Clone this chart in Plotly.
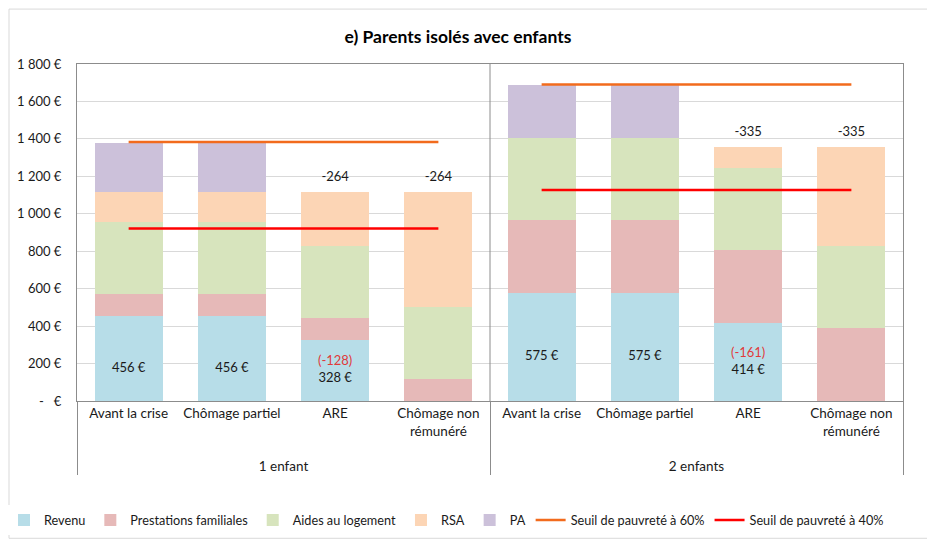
import plotly.graph_objects as go

# ---- data ----
groups = ["1 enfant"] * 4 + ["2 enfants"] * 4
situations = ["Avant la crise", "Chômage partiel", "ARE", "Chômage non<br>rémunéré"] * 2
revenu = [456, 456, 328, 0, 575, 575, 414, 0]
prestations = [115, 115, 115, 115, 390, 390, 390, 390]
aides_logement = [385, 385, 385, 385, 440, 440, 440, 440]
rsa = [160, 160, 288, 616, 0, 0, 111, 525]
pa = [264, 264, 0, 0, 285, 285, 0, 0]
seuil_60 = [1383, 1383, 1383, 1383, 1690, 1690, 1690, 1690]
seuil_40 = [922, 922, 922, 922, 1127, 1127, 1127, 1127]
y_tickvals = [0, 200, 400, 600, 800, 1000, 1200, 1400, 1600, 1800]
y_ticktext = ["-   €", "200 €", "400 €", "600 €", "800 €", "1 000 €", "1 200 €", "1 400 €", "1 600 €", "1 800 €"]

# ---- styles / label placement ----
FONT = "Lato, 'Open Sans', sans-serif"
colors = {
    "Revenu": "#b7dde8",
    "Prestations familiales": "#e6b9b8",
    "Aides au logement": "#d7e4bd",
    "RSA": "#fcd5b5",
    "PA": "#ccc1da",
}
orange = "#f26b1d"
red = "#ff0000"
label_red = "#e03a3a"
revenu_label_y = [172, 172, 165, None, 238, 238, 207, None]
total_label_offset = 78

# page body has an 8px margin: figure is laid out in page coords minus 8
OFF = 8
W, H = 935 - OFF, 541 - OFF
PL, PT, PW, PH = 77, 64, 826, 337.5  # plot area in page pixels
PB = PT + PH

def px_x(p):  # page x -> paper fraction
    return (p - PL) / PW

def px_y(p):  # page y -> paper fraction
    return (PB - p) / PH

# group labels pushed one line lower (as in the reference)
x = [["<br>" + g for g in groups], situations]
fig = go.Figure()
series = [
    ("Revenu", revenu),
    ("Prestations familiales", prestations),
    ("Aides au logement", aides_logement),
    ("RSA", rsa),
    ("PA", pa),
]
for name, vals in series:
    fig.add_bar(x=x, y=vals, name=name, marker_color=colors[name],
                marker_line_width=0, hoverinfo="skip")

group_idx = {"1 enfant": [0, 1, 2, 3], "2 enfants": [4, 5, 6, 7]}
for name, vals, col, lg in [("Seuil de pauvreté à 60%", seuil_60, orange, "s60"),
                            ("Seuil de pauvreté à 40%", seuil_40, red, "s40")]:
    first = True
    for g, idx in group_idx.items():
        fig.add_scatter(x=[[x[0][i] for i in idx], [x[1][i] for i in idx]],
                        y=[vals[i] for i in idx], mode="lines", name=name,
                        line=dict(color=col, width=2.5), legendgroup=lg,
                        showlegend=first, hoverinfo="skip")
        first = False

# revenue labels (with change vs "Avant la crise") and total change labels
totals = [revenu[i] + prestations[i] + aides_logement[i] + rsa[i] + pa[i] for i in range(8)]
rev_text, rev_y, rev_x0, rev_x1 = [], [], [], []
tot_text, tot_y, tot_x0, tot_x1 = [], [], [], []
for i in range(8):
    base = 0 if i < 4 else 4
    if revenu[i] > 0:
        t = f"{revenu[i]} €"
        d = revenu[i] - revenu[base]
        if d != 0:
            t = f"<span style='color:{label_red}'>({d})</span><br>{t}"
        rev_text.append(t)
        rev_y.append(revenu_label_y[i])
        rev_x0.append(x[0][i]); rev_x1.append(x[1][i])
    dt = totals[i] - totals[base]
    if dt != 0:
        tot_text.append(str(dt))
        tot_y.append(totals[i] + total_label_offset)
        tot_x0.append(x[0][i]); tot_x1.append(x[1][i])

fig.add_scatter(x=[rev_x0, rev_x1], y=rev_y, text=rev_text, mode="text",
                textfont=dict(family=FONT, size=13, color="#1a1a1a"),
                showlegend=False, hoverinfo="skip")
fig.add_scatter(x=[tot_x0, tot_x1], y=tot_y, text=tot_text, mode="text",
                textfont=dict(family=FONT, size=13, color="#1a1a1a"),
                showlegend=False, hoverinfo="skip")

fig.update_layout(
    width=W, height=H,
    margin=dict(l=PL - OFF, r=W - (PL - OFF) - PW, t=PT - OFF,
                b=H - (PT - OFF) - PH, autoexpand=False),
    paper_bgcolor="white", plot_bgcolor="white",
    barmode="stack", bargap=0.34,
    font=dict(family=FONT, size=13, color="#1a1a1a"),
    title=dict(text="<b>e) Parents isolés avec enfants</b>", x=(458 - OFF) / W, xanchor="center",
               xref="container", y=1 - (37 - OFF) / H, yref="container", yanchor="middle",
               font=dict(family=FONT, size=17.5, color="#000"), automargin=False),
    legend=dict(orientation="h", x=px_x(4), xanchor="left",
                y=px_y(521), yanchor="middle",
                font=dict(family=FONT, size=12.7), itemwidth=30,
                traceorder="normal", tracegroupgap=0),
    xaxis=dict(showline=True, linecolor="#8c8c8c", mirror=True, ticks="", tickangle=0,
               showdividers=True, dividercolor="#8c8c8c", dividerwidth=1,
               tickfont=dict(family=FONT, size=13.5), showgrid=False, automargin=False),
    yaxis=dict(range=[0, 1800], tickvals=y_tickvals, ticktext=y_ticktext,
               showline=True, linecolor="#8c8c8c", mirror=True, ticks="",
               showgrid=True, gridcolor="#d9d9d9", zeroline=False, automargin=False,
               ticklabelstandoff=12, tickfont=dict(family=FONT, size=13)),
    shapes=[
        dict(type="line", xref="paper", yref="paper", x0=0.5, x1=0.5, y0=0, y1=1,
             line=dict(color="#8c8c8c", width=1)),
        dict(type="rect", xref="paper", yref="paper",
             x0=px_x(9), x1=px_x(930), y0=px_y(539), y1=px_y(9),
             line=dict(color="#d9d9d9", width=1), layer="below"),
    ],
)

fig.write_html("out.html")
